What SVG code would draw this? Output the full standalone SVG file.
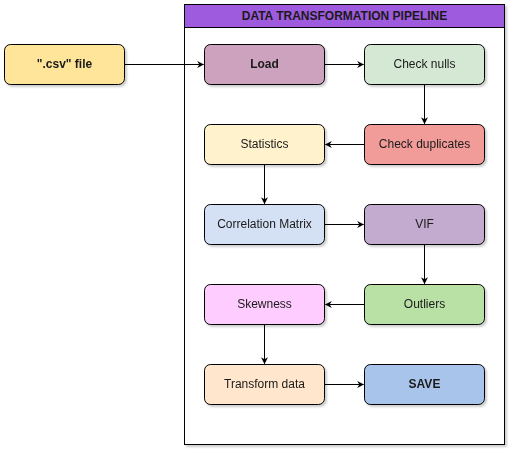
<svg xmlns="http://www.w3.org/2000/svg" width="511" height="452" viewBox="0 0 511 452">
<defs>
<filter id="sh" x="-10%" y="-10%" width="130%" height="140%"><feOffset dx="1.5" dy="2" in="SourceAlpha"/><feGaussianBlur stdDeviation="1"/><feComponentTransfer><feFuncA type="linear" slope="0.2"/></feComponentTransfer><feMerge><feMergeNode/><feMergeNode in="SourceGraphic"/></feMerge></filter>
<marker id="ah" viewBox="0 0 10 10" refX="9" refY="5" markerWidth="7" markerHeight="7" orient="auto" markerUnits="userSpaceOnUse"><path d="M0,0 L10,5 L0,10 L3,5 Z" fill="#000"/></marker>
</defs>
<style>
.n{stroke:#000;stroke-width:1}
.t{font-family:"Liberation Sans",Arial,sans-serif;font-size:12px;fill:#1a1a1a;text-anchor:middle;dominant-baseline:central}
.b{font-weight:bold}
.c{fill:none;stroke:#000;stroke-width:1;marker-end:url(#ah)}
</style>
<rect width="511" height="452" fill="#fff"/>
<g id="pool">
<rect x="184.5" y="4.5" width="320" height="440" fill="#fff" stroke="#000" filter="url(#sh)"/>
<rect x="184.5" y="4.5" width="320" height="23" fill="#9F5BDD" stroke="#000"/>
<text class="t b" x="344.5" y="15.5">DATA TRANSFORMATION PIPELINE</text>
</g>
<g id="connectors">
<path class="c" d="M124.5 64.5 H203.5"/>
<path class="c" d="M324.5 64.5 H363.5"/>
<path class="c" d="M424.5 84.5 V123.5"/>
<path class="c" d="M364.5 144.5 H325.5"/>
<path class="c" d="M264.5 164.5 V203.5"/>
<path class="c" d="M324.5 224.5 H363.5"/>
<path class="c" d="M424.5 244.5 V283.5"/>
<path class="c" d="M364.5 304.5 H325.5"/>
<path class="c" d="M264.5 324.5 V363.5"/>
<path class="c" d="M324.5 384.5 H363.5"/>
</g>
<g id="csv" filter="url(#sh)"><rect class="n" x="4.5" y="44.5" width="120" height="40" rx="6" fill="#FFE599"/><text class="t b" x="64.5" y="63.5">".csv" file</text></g>
<g id="load" filter="url(#sh)"><rect class="n" x="204.5" y="44.5" width="120" height="40" rx="6" fill="#CDA2BE"/><text class="t b" x="264.5" y="63.5">Load</text></g>
<g id="nulls" filter="url(#sh)"><rect class="n" x="364.5" y="44.5" width="120" height="40" rx="6" fill="#D5E8D4"/><text class="t" x="424.5" y="63.5">Check nulls</text></g>
<g id="dups" filter="url(#sh)"><rect class="n" x="364.5" y="124.5" width="120" height="40" rx="6" fill="#F19C99"/><text class="t" x="424.5" y="143.5">Check duplicates</text></g>
<g id="stats" filter="url(#sh)"><rect class="n" x="204.5" y="124.5" width="120" height="40" rx="6" fill="#FFF2CC"/><text class="t" x="264.5" y="143.5">Statistics</text></g>
<g id="corr" filter="url(#sh)"><rect class="n" x="204.5" y="204.5" width="120" height="40" rx="6" fill="#D4E1F5"/><text class="t" x="264.5" y="223.5">Correlation Matrix</text></g>
<g id="vif" filter="url(#sh)"><rect class="n" x="364.5" y="204.5" width="120" height="40" rx="6" fill="#C3ABD0"/><text class="t" x="424.5" y="223.5">VIF</text></g>
<g id="outliers" filter="url(#sh)"><rect class="n" x="364.5" y="284.5" width="120" height="40" rx="6" fill="#B9E0A5"/><text class="t" x="424.5" y="303.5">Outliers</text></g>
<g id="skew" filter="url(#sh)"><rect class="n" x="204.5" y="284.5" width="120" height="40" rx="6" fill="#FFCCFF"/><text class="t" x="264.5" y="303.5">Skewness</text></g>
<g id="transform" filter="url(#sh)"><rect class="n" x="204.5" y="364.5" width="120" height="40" rx="6" fill="#FFE6CC"/><text class="t" x="264.5" y="383.5">Transform data</text></g>
<g id="save" filter="url(#sh)"><rect class="n" x="364.5" y="364.5" width="120" height="40" rx="6" fill="#A9C4EB"/><text class="t b" x="424.5" y="383.5">SAVE</text></g>
</svg>
